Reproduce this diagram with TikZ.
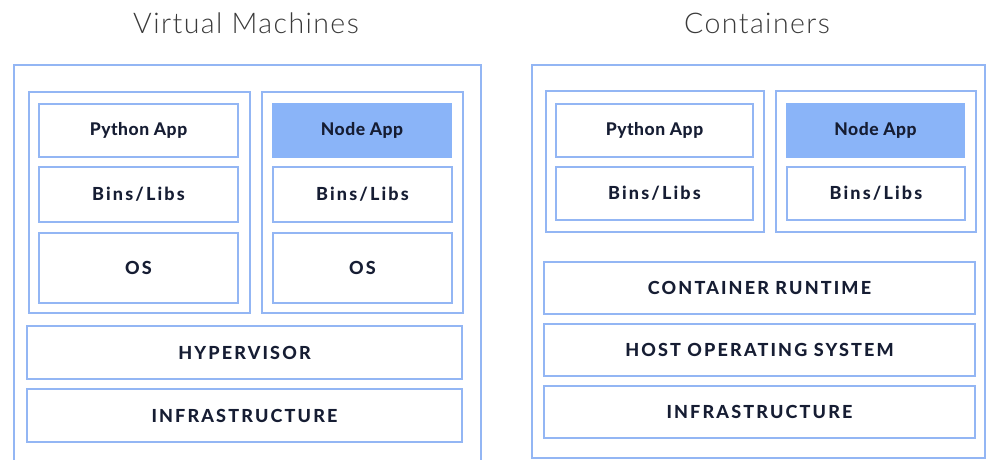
\documentclass[tikz,border=0pt]{standalone}
\usepackage{fontspec}
\setmainfont{Lato}
\newfontfamily\labelfont{Lato Heavy}[LetterSpace=3]
\newfontfamily\capsfont{Lato Heavy}[LetterSpace=12]
\newfontfamily\titlefont{Lato Light}[LetterSpace=5]
\definecolor{edgeblue}{HTML}{93B6F4}
\definecolor{nodeblue}{HTML}{8AB4F8}
\definecolor{inkblue}{HTML}{161D33}
\definecolor{titlegray}{HTML}{3A3A3A}
\begin{document}
\begin{tikzpicture}
[x=1pt,y=-1pt,
  frame/.style={draw=edgeblue,line width=2pt,inner sep=0pt},
  layer/.style={draw=edgeblue,line width=2pt,inner sep=0pt,
    font=\labelfont\fontsize{17.5}{20}\selectfont,text=inkblue},
  capslayer/.style={layer,font=\capsfont\fontsize{18}{20}\selectfont},
  heading/.style={font=\titlefont\fontsize{28.5}{32}\selectfont,text=titlegray}]
\useasboundingbox (0,0) rectangle (986,460);
\begin{scope}
\clip (0,0) rectangle (986,460);
%% titles
\node (vmtitle) at (246,23) [heading] {Virtual Machines};
\node (cttitle) at (757,23) [heading] {Containers};
%% outer frames
\draw[edgeblue,line width=2pt] (14,65) rectangle (481,475);
\draw[edgeblue,line width=2pt] (532,65) rectangle (985,458);
%% app frames
\foreach \nodename/\x/\y/\w/\h in {vmone/139.5/202.5/221/221,
  vmtwo/362.5/202.5/201/221, ctone/655/161.5/218/141,
  cttwo/876/161.5/200/141} {
  \node (\nodename) at (\x,\y) [frame,minimum width=\w,minimum height=\h] {};
}
%% layers
\foreach \nodename/\label/\x/\y/\w/\h in {vmpy/{Python App}/138.5/130.5/199/53,
  ctpy/{Python App}/654.5/130.5/197/53} {
  \node (\nodename) at (\x,\y) [layer,minimum width=\w,minimum height=\h] {\label};
}
\foreach \nodename/\label/\x/\y/\w/\h in {vmbinsa/{Bins/Libs}/138.5/194.5/199/55,
  vmosa/OS/138.5/268/199/70,
  vmbinsb/{Bins/Libs}/362.5/194.5/179/55, vmosb/OS/362.5/268/179/70,
  hyper/HYPERVISOR/244.5/352.5/435/53, vminfra/INFRASTRUCTURE/244.5/415.5/435/53,
  ctbinsa/{Bins/Libs}/654.5/193.5/197/53,
  ctbinsb/{Bins/Libs}/876/193.5/178/53,
  runtime/{CONTAINER RUNTIME}/759.5/288/431/52,
  hostos/{HOST OPERATING SYSTEM}/759.5/350/431/52,
  ctinfra/INFRASTRUCTURE/759.5/412/431/52} {
  \node (\nodename) at (\x,\y) [capslayer,minimum width=\w,minimum height=\h] {\label};
}
%% highlighted apps
\node (vmnode) at (362,130.5) [layer,draw=nodeblue,fill=nodeblue,
  minimum width=178,minimum height=53] {Node App};
\node (ctnode) at (875.5,130.5) [layer,draw=nodeblue,fill=nodeblue,
  minimum width=177,minimum height=53] {Node App};
\end{scope}
\end{tikzpicture}
\end{document}
